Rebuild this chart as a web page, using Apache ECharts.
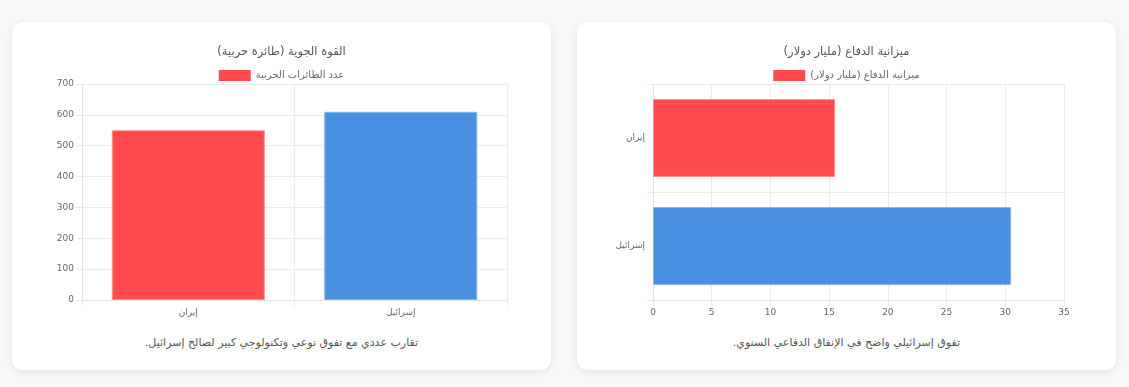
<!DOCTYPE html>
<html lang="ar">
<head>
<meta charset="utf-8">
<script src="https://cdn.jsdelivr.net/npm/echarts@6/dist/echarts.min.js"></script>
<style>
  html, body { margin: 0; padding: 0; background: #f7f8fa; width: 1129px; height: 387px; overflow: hidden; }
  body { position: relative; font-family: "DejaVu Sans", sans-serif; }
  .card { position: absolute; top: 22px; width: 539px; height: 348px; background: #fff; border-radius: 10px;
          box-shadow: 0 2px 8px rgba(0,0,0,0.09); }
  .chart { position: absolute; left: 0; top: 0; width: 539px; height: 310px; }
  .note { position: absolute; left: 0; right: 0; top: 314px; text-align: center; direction: rtl;
          font-size: 11px; color: #555; }
</style>
</head>
<body>
<div class="card" style="left:12px;"><div id="c1" class="chart"></div><div class="note" id="n1"></div></div>
<div class="card" style="left:577px;"><div id="c2" class="chart"></div><div class="note" id="n2"></div></div>
<script>
// ---- data ----
const countries = ['إيران', 'إسرائيل'];
const aircraft = [550, 610];
const budget = [15.5, 30.5];
const colors = ['#ff4b4e', '#4a90e2'];
const borders = ['#ff8d8f', '#86b6ee'];
const title1 = 'القوة الجوية (طائرة حربية)';
const legend1 = 'عدد الطائرات الحربية';
const title2 = 'ميزانية الدفاع (مليار دولار)';
const legend2 = 'ميزانية الدفاع (مليار دولار)';
const note1 = 'تقارب عددي مع تفوق نوعي وتكنولوجي كبير لصالح إسرائيل.';
const note2 = 'تفوق إسرائيلي واضح في الإنفاق الدفاعي السنوي.';

document.getElementById('n1').textContent = note1;
document.getElementById('n2').textContent = note2;

const FONT = '"DejaVu Sans", sans-serif';
const gridColor = '#ebebeb';
const labelStyle = { fontSize: 9, color: '#666', fontFamily: FONT };

function items(vals) {
  return vals.map((v, i) => ({ value: v, itemStyle: { color: colors[i], borderColor: borders[i], borderWidth: 1 } }));
}

function common(title, legend) {
  return {
    animation: false,
    title: { text: title, left: 'center', top: 19,
      textStyle: { fontSize: 11.5, fontWeight: 'normal', color: '#555', fontFamily: FONT } },
    legend: { top: 43, left: 'center', itemWidth: 32, itemHeight: 11, icon: 'rect',
      data: [legend], textStyle: { fontSize: 10, color: '#666', fontFamily: FONT } }
  };
}

const c1 = echarts.init(document.getElementById('c1'), null, { renderer: 'canvas' });
c1.setOption(Object.assign(common(title1, legend1), {
  grid: { left: 70, right: 44, top: 62, bottom: 32 },
  xAxis: { type: 'category', data: countries,
    axisLine: { lineStyle: { color: '#e0e0e0' } },
    axisTick: { show: true, length: 6, lineStyle: { color: gridColor } },
    splitLine: { show: true, lineStyle: { color: gridColor } },
    axisLabel: Object.assign({ margin: 8 }, labelStyle) },
  yAxis: { type: 'value', min: 0, max: 700, interval: 100,
    axisLine: { show: true, lineStyle: { color: '#e0e0e0' } },
    axisTick: { show: true, length: 6, lineStyle: { color: gridColor } },
    splitLine: { show: true, lineStyle: { color: gridColor } },
    axisLabel: Object.assign({ margin: 8 }, labelStyle) },
  series: [{ name: legend1, type: 'bar', barWidth: '72%', itemStyle: { color: colors[0] }, data: items(aircraft) }]
}));

const c2 = echarts.init(document.getElementById('c2'), null, { renderer: 'canvas' });
c2.setOption(Object.assign(common(title2, legend2), {
  grid: { left: 76, right: 52, top: 62, bottom: 32 },
  xAxis: { type: 'value', min: 0, max: 35, interval: 5,
    axisLine: { show: true, lineStyle: { color: '#e0e0e0' } },
    axisTick: { show: true, length: 6, lineStyle: { color: gridColor } },
    splitLine: { show: true, lineStyle: { color: gridColor } },
    axisLabel: Object.assign({ margin: 8 }, labelStyle) },
  yAxis: { type: 'category', data: countries, inverse: true,
    axisLine: { lineStyle: { color: '#e0e0e0' } },
    axisTick: { show: true, length: 6, lineStyle: { color: gridColor } },
    splitLine: { show: true, lineStyle: { color: gridColor } },
    axisLabel: Object.assign({ margin: 8 }, labelStyle) },
  series: [{ name: legend2, type: 'bar', barWidth: '72%', itemStyle: { color: colors[0] }, data: items(budget) }]
}));
</script>
</body>
</html>
